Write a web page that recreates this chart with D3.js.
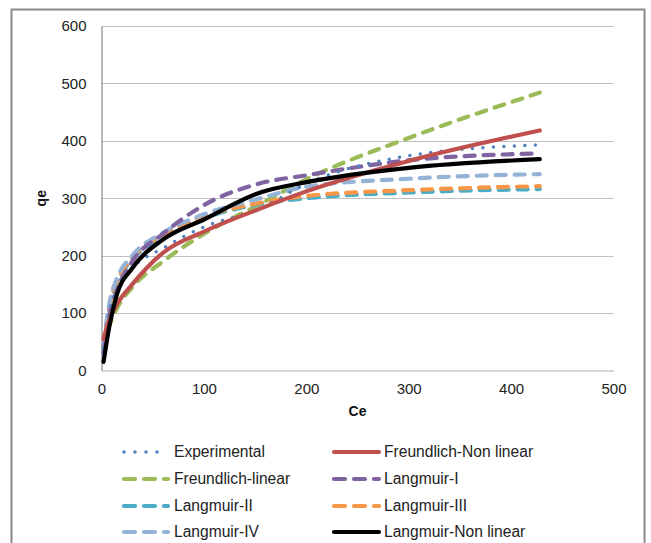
<!DOCTYPE html>
<html>
<head>
<meta charset="utf-8">
<script src="https://cdn.jsdelivr.net/npm/d3@7/dist/d3.min.js"></script>
<style>
  html, body { margin: 0; padding: 0; background: #fff; }
  svg { display: block; font-family: "Liberation Sans", Arial, sans-serif; }
</style>
</head>
<body>
<svg id="chart" width="651" height="543"></svg>
<script>
// Equilibrium concentration Ce (mg/L) shared by every series
const ce = [2, 8, 15, 30, 60, 100, 155, 200, 300, 428];

// Adsorption capacity qe (mg/g) for the measured data and each isotherm fit
const experimental      = [40, 105, 140, 178, 213, 250, 282, 325, 374, 393];
const freundlichNonLin  = [55, 90, 115, 150, 205, 242, 282, 312, 365, 418];
const freundlichLinear  = [40, 80, 108, 145, 190, 238, 290, 333, 405, 484];
const langmuirI         = [30, 100, 140, 190, 238, 288, 326, 340, 366, 378];
const langmuirII        = [40, 112, 152, 193, 232, 265, 290, 300, 310, 316];
const langmuirIII       = [42, 115, 155, 196, 236, 268, 292, 304, 314, 321];
const langmuirIV        = [45, 120, 160, 200, 240, 272, 300, 320, 334, 342];
const langmuirNonLin    = [15, 80, 132, 178, 228, 263, 310, 328, 353, 368];

const xTicks = [0, 100, 200, 300, 400, 500];
const yTicks = [0, 100, 200, 300, 400, 500, 600];

const series = [
  { name: "Experimental",          values: experimental,     color: "#4F81BD", width: 3.5, dash: "0,10.5" },
  { name: "Freundlich-Non linear", values: freundlichNonLin, color: "#C0504D", width: 4.2, dash: null },
  { name: "Freundlich-linear",     values: freundlichLinear, color: "#9BBB59", width: 4.2, dash: "10,9" },
  { name: "Langmuir-I",            values: langmuirI,        color: "#8064A2", width: 4.2, dash: "10,9" },
  { name: "Langmuir-II",           values: langmuirII,       color: "#4BACC6", width: 4.2, dash: "10,9" },
  { name: "Langmuir-III",          values: langmuirIII,      color: "#F79646", width: 4.2, dash: "10,9" },
  { name: "Langmuir-IV",           values: langmuirIV,       color: "#95B3D7", width: 4.2, dash: "10,9" },
  { name: "Langmuir-Non linear",   values: langmuirNonLin,   color: "#000000", width: 4.2, dash: null }
];

const svg = d3.select("#chart");

// Chart frame
svg.append("rect")
  .attr("x", 11.5).attr("y", 9.5)
  .attr("width", 633).attr("height", 560)
  .attr("fill", "none").attr("stroke", "#8a8a8a").attr("stroke-width", 2);

const plot = { left: 101.5, right: 613.5, top: 26, bottom: 370.5 };

const x = d3.scaleLinear().domain([0, 500]).range([plot.left, plot.right]);
const y = d3.scaleLinear().domain([0, 600]).range([plot.bottom, plot.top]);

// Horizontal gridlines
svg.append("g")
  .selectAll("line")
  .data(yTicks.filter(d => d > 0))
  .join("line")
  .attr("x1", plot.left).attr("x2", plot.right)
  .attr("y1", d => Math.round(y(d)) + 0.5).attr("y2", d => Math.round(y(d)) + 0.5)
  .attr("stroke", "#c0c0c0").attr("stroke-width", 1);

// Y axis
const yAxis = svg.append("g")
  .attr("transform", `translate(${plot.left},0)`)
  .call(d3.axisLeft(y).tickValues(yTicks).tickSize(0).tickPadding(15));
yAxis.select(".domain").attr("stroke", "#8a8a8a").attr("stroke-width", 1.2);
yAxis.selectAll("text").attr("font-size", 15).attr("fill", "#222")
  .attr("font-family", "Liberation Sans, Arial, sans-serif");

// X axis
const xAxis = svg.append("g")
  .attr("transform", `translate(0,${plot.bottom})`)
  .call(d3.axisBottom(x).tickValues(xTicks).tickSize(0).tickPadding(13));
xAxis.select(".domain").attr("stroke", "#b0b0b0").attr("stroke-width", 1.2);
xAxis.selectAll("text").attr("font-size", 15).attr("fill", "#222")
  .attr("font-family", "Liberation Sans, Arial, sans-serif");

// Axis titles
svg.append("text")
  .attr("x", x(250)).attr("y", 416)
  .attr("text-anchor", "middle")
  .attr("font-size", 14).attr("font-weight", "bold").attr("fill", "#111")
  .text("Ce");
svg.append("text")
  .attr("transform", `translate(46,${y(300)}) rotate(-90)`)
  .attr("text-anchor", "middle")
  .attr("font-size", 14).attr("font-weight", "bold").attr("fill", "#111")
  .text("qe");

// Series lines (smoothed)
const line = d3.line()
  .x((d, i) => x(ce[i]))
  .y(d => y(d))
  .curve(d3.curveMonotoneX);

const drawOrder = [2, 4, 5, 6, 3, 0, 1, 7];
svg.append("g")
  .selectAll("path")
  .data(drawOrder.map(i => series[i]))
  .join("path")
  .attr("d", d => line(d.values))
  .attr("fill", "none")
  .attr("stroke", d => d.color)
  .attr("stroke-width", d => d.width)
  .attr("stroke-linecap", "round")
  .attr("stroke-dasharray", d => d.dash);

// Legend: two columns, four rows
const legendRows = [452, 479, 506, 532];
const legendCols = [{ x1: 124, x2: 168, tx: 174 }, { x1: 334, x2: 379, tx: 384 }];
const legend = svg.append("g")
  .selectAll("g")
  .data(series)
  .join("g")
  .attr("transform", (d, i) => `translate(0,${legendRows[Math.floor(i / 2)]})`);

legend.append("line")
  .attr("x1", (d, i) => legendCols[i % 2].x1)
  .attr("x2", (d, i) => legendCols[i % 2].x2)
  .attr("y1", 0).attr("y2", 0)
  .attr("stroke", d => d.color)
  .attr("stroke-width", d => d.width)
  .attr("stroke-linecap", "round")
  .attr("stroke-dasharray", d => d.dash ? (d.dash === "10,9" ? "11,9" : "0,11") : null);

legend.append("text")
  .attr("x", (d, i) => legendCols[i % 2].tx)
  .attr("y", 0)
  .attr("dy", "0.35em")
  .attr("font-size", 15.6).attr("fill", "#222")
  .text(d => d.name);
</script>
</body>
</html>
